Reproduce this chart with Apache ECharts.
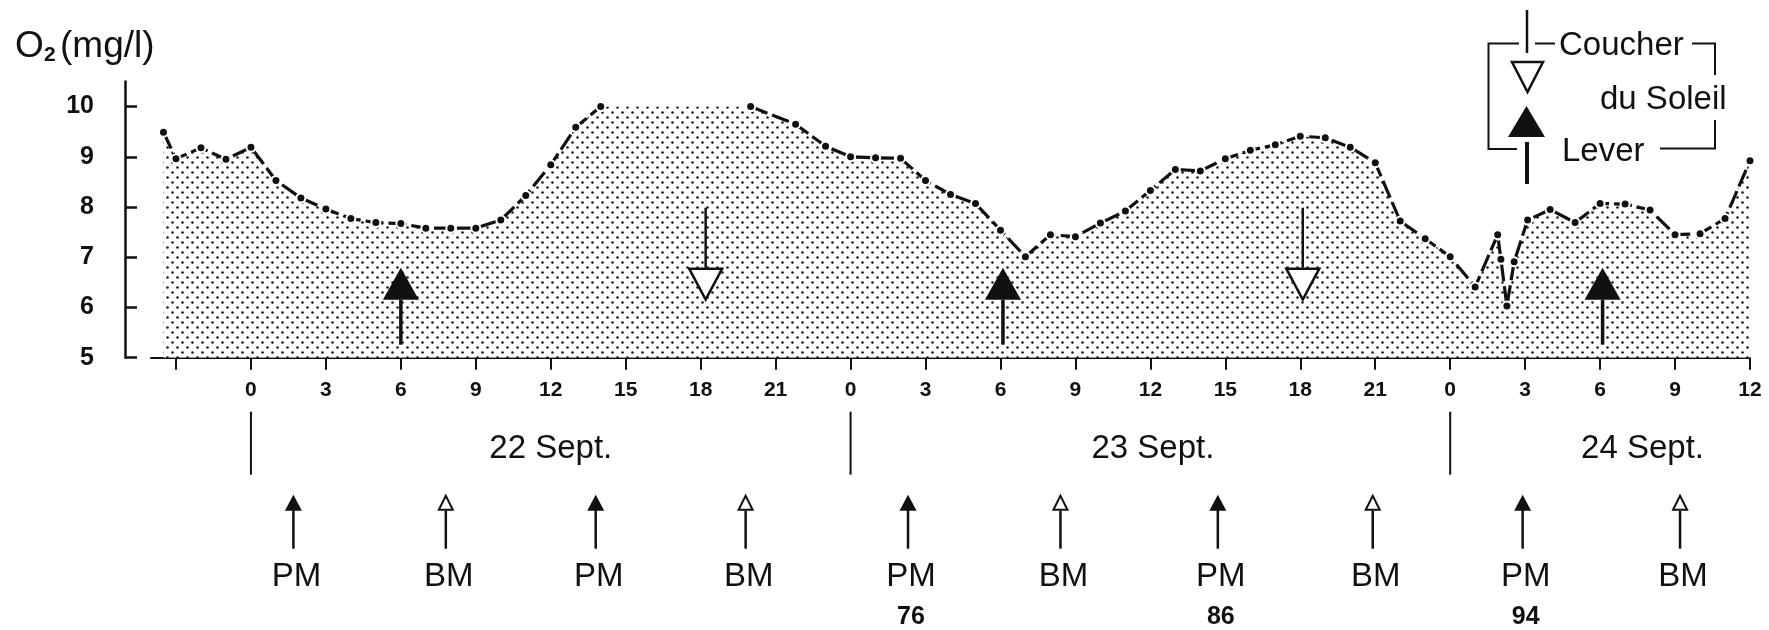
<!DOCTYPE html>
<html>
<head>
<meta charset="utf-8">
<script src="https://cdn.jsdelivr.net/npm/echarts@6/dist/echarts.min.js"></script>
<style>
html,body{margin:0;padding:0;background:#fff;}
#chart{width:1769px;height:630px;}
</style>
</head>
<body>
<div id="chart"></div>
<script>
// ---------- DATA ----------
// hours counted from 0h on 22 Sept.
const hours = [-3.5,-3,-2,-1,0,1,2,3,4,5,6,7,8,9,10,11,12,13,14,17,20,21.8,23,24,25,26,27,28,29,30,31,32,33,34,35,36,37,38,39,40,41,42,43,44,45,46,47,48,49,49.9,50.03,50.27,50.56,51.1,52,53,54,55,56,57,58,59,60];
// O2 (mg/l); null = off-scale (above 10) - no line drawn
const o2 = [9.49,8.96,9.18,8.95,9.19,8.53,8.18,7.96,7.77,7.69,7.67,7.58,7.58,7.58,7.74,8.23,8.84,9.59,10.0,null,10.0,9.65,9.21,9.0,8.98,8.97,8.53,8.25,8.07,7.54,7.01,7.45,7.41,7.68,7.92,8.33,8.75,8.72,8.96,9.13,9.24,9.41,9.38,9.19,8.88,7.72,7.37,7.01,6.41,7.45,6.96,6.03,6.91,7.74,7.95,7.69,8.07,8.06,7.94,7.45,7.47,7.77,8.92];
const yTicks = [5,6,7,8,9,10];
const xTicks = [-3,0,3,6,9,12,15,18,21,24,27,30,33,36,39,42,45,48,51,54,57,60];
const xLabels = [0,3,6,9,12,15,18,21,24,27,30,33,36,39,42,45,48,51,54,57,60];
const sunriseHours = [6, 30.1, 54.1];
const sunsetHours = [18.2, 42.1];
const dayStarts = [0, 24, 48];
const dayLabels = ['22 Sept.', '23 Sept.', '24 Sept.'];
const dayLabelHours = [12, 36.1, 55.7];
const pmHours = [1.7, 13.8, 26.3, 38.7, 50.9];
const pmCoefficients = ['', '', '76', '86', '94'];
const bmHours = [7.8, 19.8, 32.4, 44.9, 57.2];
const yTitle = ['O', '2', '(mg/l)'];
const legendTexts = ['Coucher', 'du Soleil', 'Lever'];

// ---------- STYLE ----------
const FONT = '"Liberation Sans", Arial, Helvetica, sans-serif';
const INK = '#111';
const Y_MIN = 5, Y_MAX = 10.5;

function makePattern() {
  const c = document.createElement('canvas');
  c.width = 10; c.height = 10;
  const g = c.getContext('2d');
  g.fillStyle = '#fff';
  g.fillRect(0, 0, 10, 10);
  g.fillStyle = '#1a1a1a';
  [[2.5, 2.5], [7.5, 7.5]].forEach(p => {
    g.beginPath(); g.arc(p[0], p[1], 1.3, 0, Math.PI * 2); g.fill();
  });
  return c;
}

const lineData = hours.map((h, i) => [h, o2[i] === null ? '-' : o2[i]]);
const fillData = hours.map((h, i) => [h, o2[i]]).filter(p => p[1] !== null);

const chart = echarts.init(document.getElementById('chart'), null, {renderer: 'canvas'});

function baseY(api, h) { return api.coord([h, Y_MIN]); }

const option = {
  animation: false,
  backgroundColor: '#fff',
  grid: {left: 151, right: 19, top: 81.5, bottom: 272.3, containLabel: false, outerBoundsMode: 'none'},
  xAxis: {
    type: 'value', min: -4, max: 60,
    splitLine: {show: false},
    axisLine: {show: true, onZero: false, lineStyle: {color: INK, width: 2}},
    axisTick: {show: true, inside: false, length: 12, customValues: xTicks, lineStyle: {color: INK, width: 2}},
    axisLabel: {show: true, customValues: xLabels, margin: 22, color: INK,
      fontFamily: FONT, fontWeight: 'bold', fontSize: 21,
      formatter: v => String(((v % 24) + 24) % 24)}
  },
  yAxis: {
    type: 'value', min: Y_MIN, max: Y_MAX, offset: 26,
    splitLine: {show: false},
    axisLine: {show: true, onZero: false, lineStyle: {color: INK, width: 2.5}},
    axisTick: {show: true, inside: true, length: 12, customValues: yTicks, lineStyle: {color: INK, width: 2.5}},
    axisLabel: {show: true, customValues: yTicks, margin: 31, color: INK,
      fontFamily: FONT, fontWeight: 'bold', fontSize: 25}
  },
  series: [
    {
      name: 'fill', type: 'line', data: fillData, z: 1,
      symbol: 'none', lineStyle: {width: 0},
      areaStyle: {color: {image: makePattern(), repeat: 'repeat'}, opacity: 1, origin: 'start'},
      silent: true
    },
    {
      name: 'sunrise', type: 'custom', z: 3, silent: true,
      data: sunriseHours.map(h => [h, Y_MIN]),
      renderItem: (params, api) => {
        const p = baseY(api, api.value(0));
        const x = p[0], y = p[1];
        return {type: 'group', children: [
          {type: 'line', shape: {x1: x, y1: y - 58, x2: x, y2: y - 13}, style: {stroke: INK, lineWidth: 3.5}},
          {type: 'polygon', shape: {points: [[x - 18, y - 58], [x + 18, y - 58], [x, y - 90]]}, style: {fill: INK}}
        ]};
      }
    },
    {
      name: 'sunset', type: 'custom', z: 3, silent: true,
      data: sunsetHours.map(h => [h, Y_MIN]),
      renderItem: (params, api) => {
        const p = baseY(api, api.value(0));
        const x = p[0], y = p[1];
        return {type: 'group', children: [
          {type: 'line', shape: {x1: x, y1: y - 150, x2: x, y2: y - 90}, style: {stroke: INK, lineWidth: 2.5}},
          {type: 'polygon', shape: {points: [[x - 16.5, y - 89], [x + 16.5, y - 89], [x, y - 58]]}, style: {fill: '#fff', stroke: INK, lineWidth: 2.5}}
        ]};
      }
    },
    {
      name: 'O2', type: 'line', data: lineData, z: 5,
      connectNulls: false, showAllSymbol: true,
      symbol: 'circle', symbolSize: 9,
      itemStyle: {color: INK, borderColor: '#fff', borderWidth: 2},
      lineStyle: {color: INK, width: 3.2, type: [18, 5]},
      silent: true
    },
    {
      name: 'days', type: 'custom', z: 3, silent: true,
      data: dayStarts.map((h, i) => [h, Y_MIN, dayLabelHours[i]]),
      renderItem: (params, api) => {
        const p = baseY(api, api.value(0));
        const c = baseY(api, api.value(2));
        return {type: 'group', children: [
          {type: 'line', shape: {x1: p[0], y1: p[1] + 54, x2: p[0], y2: p[1] + 117}, style: {stroke: INK, lineWidth: 2}},
          {type: 'text', x: c[0], y: c[1] + 91, style: {text: dayLabels[params.dataIndex], fill: INK,
            font: '33px ' + FONT, align: 'center', verticalAlign: 'middle'}}
        ]};
      }
    },
    {
      name: 'PM', type: 'custom', z: 3, silent: true,
      data: pmHours.map(h => [h, Y_MIN]),
      renderItem: (params, api) => {
        const p = baseY(api, api.value(0));
        const x = p[0], y = p[1];
        return {type: 'group', children: [
          {type: 'line', shape: {x1: x, y1: y + 152, x2: x, y2: y + 191}, style: {stroke: INK, lineWidth: 2.5}},
          {type: 'polygon', shape: {points: [[x - 8.5, y + 153], [x + 8.5, y + 153], [x, y + 137]]}, style: {fill: INK}},
          {type: 'text', x: x + 3, y: y + 219, style: {text: 'PM', fill: INK, font: '33px ' + FONT, align: 'center', verticalAlign: 'middle'}},
          {type: 'text', x: x + 3, y: y + 259, style: {text: pmCoefficients[params.dataIndex], fill: INK, font: 'bold 25px ' + FONT, align: 'center', verticalAlign: 'middle'}}
        ]};
      }
    },
    {
      name: 'BM', type: 'custom', z: 3, silent: true,
      data: bmHours.map(h => [h, Y_MIN]),
      renderItem: (params, api) => {
        const p = baseY(api, api.value(0));
        const x = p[0], y = p[1];
        return {type: 'group', children: [
          {type: 'line', shape: {x1: x, y1: y + 153, x2: x, y2: y + 191}, style: {stroke: INK, lineWidth: 2.5}},
          {type: 'polygon', shape: {points: [[x - 7, y + 152], [x + 7, y + 152], [x, y + 138]]}, style: {fill: '#fff', stroke: INK, lineWidth: 2}},
          {type: 'text', x: x + 3, y: y + 219, style: {text: 'BM', fill: INK, font: '33px ' + FONT, align: 'center', verticalAlign: 'middle'}}
        ]};
      }
    }
  ],
  graphic: [
    // Y axis title O2(mg/l)
    {type: 'text', left: 15, top: 28, style: {text: yTitle[0], fill: INK, font: '37px ' + FONT}},
    {type: 'text', left: 44, top: 45, style: {text: yTitle[1], fill: INK, font: 'bold 21px ' + FONT}},
    {type: 'text', left: 60, top: 28, style: {text: yTitle[2], fill: INK, font: '37px ' + FONT}},
    // legend box
    {type: 'line', shape: {x1: 1527, y1: 10, x2: 1527, y2: 53}, style: {stroke: INK, lineWidth: 2.5}},
    {type: 'polygon', shape: {points: [[1512, 62], [1543, 62], [1527.5, 92]]}, style: {fill: '#fff', stroke: INK, lineWidth: 2.5}},
    {type: 'polygon', shape: {points: [[1508, 137], [1545, 137], [1526.5, 106]]}, style: {fill: INK}},
    {type: 'line', shape: {x1: 1527, y1: 142, x2: 1527, y2: 184}, style: {stroke: INK, lineWidth: 4}},
    {type: 'polyline', shape: {points: [[1519, 43.5], [1488.5, 43.5], [1488.5, 149], [1517, 149]]}, style: {stroke: INK, lineWidth: 2, fill: null}},
    {type: 'line', shape: {x1: 1535, y1: 43.5, x2: 1555, y2: 43.5}, style: {stroke: INK, lineWidth: 2}},
    {type: 'polyline', shape: {points: [[1692, 43.5], [1715, 43.5], [1715, 75]]}, style: {stroke: INK, lineWidth: 2, fill: null}},
    {type: 'polyline', shape: {points: [[1715, 120], [1715, 148.5], [1660, 148.5]]}, style: {stroke: INK, lineWidth: 2, fill: null}},
    {type: 'text', x: 1559, y: 46, style: {text: legendTexts[0], fill: INK, font: '33px ' + FONT, align: 'left', verticalAlign: 'middle'}},
    {type: 'text', x: 1600, y: 100, style: {text: legendTexts[1], fill: INK, font: '33px ' + FONT, align: 'left', verticalAlign: 'middle'}},
    {type: 'text', x: 1562, y: 152, style: {text: legendTexts[2], fill: INK, font: '33px ' + FONT, align: 'left', verticalAlign: 'middle'}}
  ]
};
chart.setOption(option);
</script>
</body>
</html>
